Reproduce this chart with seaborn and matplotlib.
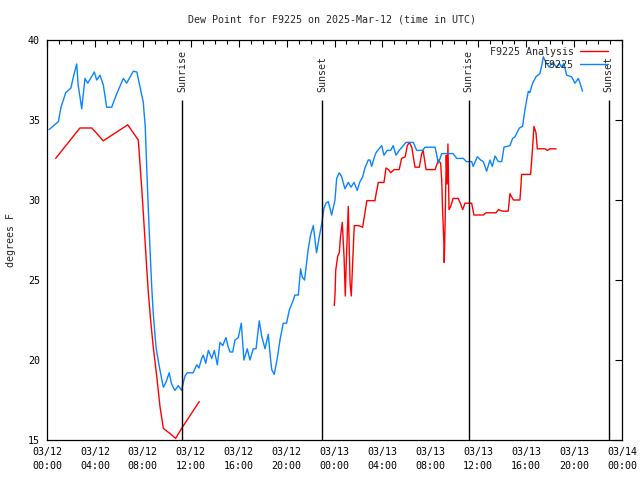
import matplotlib
matplotlib.use("Agg")
import matplotlib.pyplot as plt
import numpy as np
import pandas as pd
import seaborn as sns

# hours since 2025-03-12 00:00 UTC
obs_hours = [0.17, 0.95, 1.17, 1.56, 2.0, 2.2, 2.48, 2.6, 2.9, 3.17, 3.4, 3.95, 4.15, 4.42,
             4.7, 4.98, 5.4, 5.8, 6.37, 6.65, 7.2, 7.5, 7.76, 8.04, 8.1, 8.2, 8.32, 8.46,
             8.6, 8.74, 8.87, 9.1, 9.37, 9.71, 9.93, 10.2, 10.4, 10.68, 10.96, 11.24, 11.38,
             11.52, 11.7, 12.2, 12.5, 12.69, 12.91, 13.05, 13.25, 13.47, 13.75, 13.97, 14.22,
             14.44, 14.67, 14.94, 15.13, 15.28, 15.5, 15.69, 15.97, 16.22, 16.44, 16.72,
             16.94, 17.22, 17.45, 17.72, 17.92, 18.2, 18.47, 18.67, 18.76, 18.97, 19.22,
             19.45, 19.72, 20.0, 20.22, 20.56, 20.7, 20.98, 21.17, 21.3, 21.5, 21.8, 22.0,
             22.23, 22.37, 22.5, 22.73, 22.93, 23.12, 23.29, 23.48, 23.76, 24.04, 24.18,
             24.4, 24.6, 24.87, 25.15, 25.38, 25.63, 25.9, 26.1, 26.35, 26.54, 26.82, 26.96,
             27.1, 27.38, 27.5, 27.94, 28.13, 28.4, 28.69, 28.9, 29.13, 29.4, 29.74, 29.97,
             30.58, 30.86, 31.36, 31.55, 32.4, 32.67, 32.95, 33.9, 34.2, 34.76, 35.0, 35.45,
             35.58, 35.92, 36.2, 36.42, 36.7, 36.98, 37.17, 37.4, 37.68, 37.96, 38.15, 38.65,
             38.87, 39.07, 39.43, 39.7, 39.85, 40.04, 40.18, 40.3, 40.54, 40.82, 41.15, 41.3,
             41.43, 41.65, 41.93, 42.2, 42.55, 42.77, 42.96, 43.15, 43.38, 43.8, 44.07, 44.35,
             44.5, 44.7]
obs_dewpt = [34.4, 34.9, 35.8, 36.7, 37.0, 37.7, 38.5, 37.2, 35.7, 37.6, 37.3, 38.0, 37.5, 37.8,
             37.2, 35.8, 35.8, 36.6, 37.6, 37.3, 38.05, 38.0, 37.1, 36.1, 35.5, 34.6, 32.1, 29.4,
             26.9, 24.6, 22.9, 20.8, 19.6, 18.3, 18.6, 19.2, 18.5, 18.1, 18.4, 18.1, 18.6,
             19.0, 19.2, 19.2, 19.7, 19.5, 20.1, 20.3, 19.8, 20.6, 20.1, 20.6, 19.7,
             21.1, 20.9, 21.4, 20.8, 20.5, 20.5, 21.25, 21.4, 22.3, 20.0, 20.7,
             20.0, 20.7, 20.7, 22.45, 21.5, 20.7, 21.6, 20.0, 19.4, 19.1, 20.1,
             21.25, 22.3, 22.3, 23.1, 23.75, 24.06, 24.06, 25.7, 25.2, 25.0, 26.9, 27.8,
             28.4, 27.5, 26.7, 27.7, 28.5, 29.5, 29.8, 29.9, 29.06, 30.0, 31.35,
             31.7, 31.45, 30.7, 31.1, 30.8, 31.1, 30.6, 31.1, 31.45, 32.0, 32.5, 32.5,
             32.1, 32.8, 33.0, 33.4, 32.8, 33.1, 33.1, 33.4, 32.8, 33.1, 33.4, 33.6,
             33.6, 33.1, 33.1, 33.3, 33.3, 32.3, 32.9, 32.9, 32.6, 32.6, 32.4, 32.4,
             32.1, 32.7, 32.5, 32.4, 31.8, 32.5, 32.1, 32.75, 32.4, 32.4, 33.3, 33.4,
             33.85, 33.95, 34.5, 34.6, 35.4, 36.25, 36.8, 36.7, 37.3, 37.7, 37.9, 38.4,
             38.95, 38.6, 38.3, 38.6, 38.3, 38.55, 38.3, 38.55, 37.8, 37.7, 37.3, 37.6,
             37.3, 36.8]

# analysis, two pieces (no data between)
ana1_hours = [0.72, 2.75, 3.75, 4.7, 6.74, 7.62, 7.76, 7.9, 8.04, 8.18, 8.32, 8.46, 8.65, 8.87,
              9.16, 9.43, 9.71, 10.27, 10.74, 11.24, 12.71]
ana1_dewpt = [32.6, 34.5, 34.5, 33.7, 34.7, 33.75, 32.3, 30.8, 29.2, 27.5, 25.8, 24.2, 22.5, 20.8,
              19.0, 17.1, 15.73, 15.4, 15.1, 15.73, 17.4]
ana2_hours = [23.98, 24.05, 24.1, 24.27, 24.4, 24.5, 24.65, 24.8, 24.9, 25.0, 25.15, 25.3, 25.4,
              25.5, 25.65, 26.0, 26.35, 26.54, 26.7, 27.38, 27.5, 27.66, 28.13, 28.3, 28.5,
              28.7, 28.97, 29.4, 29.6, 29.9, 30.08, 30.25, 30.45, 30.58, 30.72, 31.08, 31.28,
              31.4, 31.64, 32.4, 32.67, 32.86, 32.95, 33.03, 33.14, 33.16, 33.25, 33.33, 33.4,
              33.47, 33.56, 33.7, 33.9, 34.33, 34.53, 34.7, 34.9, 35.45, 35.64, 36.42, 36.64,
              37.48, 37.68, 38.04, 38.5, 38.65, 38.93, 39.48, 39.57, 39.62, 40.37, 40.54,
              40.65, 40.82, 40.93, 41.57, 41.77, 42.0, 42.5]
ana2_dewpt = [23.4, 24.2, 25.6, 26.5, 26.7, 27.7, 28.6, 26.4, 24.0, 26.5, 29.6, 24.8, 24.0,
              25.8, 28.4, 28.4, 28.3, 29.2, 29.96, 29.96, 30.5, 31.1, 31.1, 32.0, 31.9,
              31.7, 31.9, 31.9, 32.6, 32.7, 33.4, 33.6, 33.3, 32.7, 32.05, 32.05, 32.9,
              33.1, 31.9, 31.9, 32.5, 32.3, 31.25, 29.2, 27.2, 26.1, 29.2, 32.8, 31.0,
              33.5, 29.4, 29.6, 30.1, 30.1, 29.75, 29.4, 29.8, 29.8, 29.06, 29.06, 29.2,
              29.2, 29.4, 29.3, 29.3, 30.4, 30.0, 30.0, 31.0, 31.6, 31.6, 33.3,
              34.6, 34.2, 33.2, 33.2, 33.1, 33.2, 33.2]

sun_hours = [11.27, 22.95, 35.2, 46.9]
sun_labels = ["Sunrise", "Sunset", "Sunrise", "Sunset"]

tick_hours = list(range(0, 49, 4))
tick_labels = ["03/12\n00:00", "03/12\n04:00", "03/12\n08:00", "03/12\n12:00", "03/12\n16:00",
               "03/12\n20:00", "03/13\n00:00", "03/13\n04:00", "03/13\n08:00", "03/13\n12:00",
               "03/13\n16:00", "03/13\n20:00", "03/14\n00:00"]

sns.set_style("white")
plt.rcParams["font.family"] = ["DejaVu Sans Mono"]
plt.rcParams["font.size"] = 7.2

fig = plt.figure(figsize=(6.4, 4.8), dpi=100)
ax = fig.add_axes([47 / 640, 40 / 480, 575 / 640, 400 / 480])

red = "#ff0000"
blue = "#0a84ff"
sns.lineplot(x=ana1_hours, y=ana1_dewpt, ax=ax, color=red, lw=1.0, estimator=None,
             sort=False, label="F9225 Analysis")
sns.lineplot(x=ana2_hours, y=ana2_dewpt, ax=ax, color=red, lw=1.0, estimator=None, sort=False)
sns.lineplot(x=obs_hours, y=obs_dewpt, ax=ax, color=blue, lw=1.0, estimator=None,
             sort=False, label="F9225")

for h, lab in zip(sun_hours, sun_labels):
    ax.vlines(h, 15, 36.25, color="black", lw=1.0)
    ax.text(h, 36.72, lab, rotation=90, ha="center", va="bottom", fontsize=7.2)

ax.set_xlim(0, 48)
ax.set_ylim(15, 40)
ax.set_xticks(tick_hours)
ax.set_xticklabels(tick_labels, linespacing=1.45)
ax.set_xticks(range(0, 49), minor=True)
ax.set_yticks([15, 20, 25, 30, 35, 40])
ax.tick_params(which="both", direction="in", top=True, right=True, width=0.8,
               colors="black", labelsize=7.2)
ax.tick_params(which="major", length=5, pad=5)
ax.tick_params(which="minor", length=3)
for sp in ax.spines.values():
    sp.set_color("black")
    sp.set_linewidth(0.9)
ax.set_xlabel("")
ax.set_ylabel("")

leg = ax.legend(loc="upper right", bbox_to_anchor=(1 - 7 / 575, 1.0), markerfirst=False,
                frameon=False, handlelength=2.8, fontsize=7.2, borderaxespad=0.3,
                labelspacing=0.3, handletextpad=0.6)

fig.text(332 / 640, 1 - 19 / 480, "Dew Point for F9225 on 2025-Mar-12 (time in UTC)",
         ha="center", va="center", fontsize=7.2)
fig.text(11 / 640, 0.5, "degrees F", rotation=90, ha="center", va="center", fontsize=7.2)

fig.savefig("out.png", dpi=100, facecolor="white")
